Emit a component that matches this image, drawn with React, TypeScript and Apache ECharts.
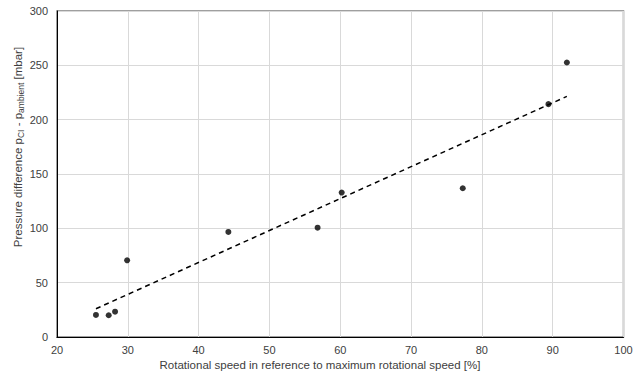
import React, { useEffect, useRef } from "react";
import * as echarts from "echarts";

const speedPct = [25.5, 27.3, 28.2, 29.9, 44.2, 56.8, 60.2, 77.3, 89.4, 92.0];
const pressureMbar = [20.3, 20.0, 23.3, 70.6, 96.7, 100.6, 132.9, 136.9, 214.3, 252.6];
const trendX = [25.5, 92.0];
const trendY = [26.0, 221.4];
const xTitle = "Rotational speed in reference to maximum rotational speed [%]";
const yTitleParts = ["Pressure difference p", "CI", " - p", "ambient", " [mbar]"];

const FONT = "'Liberation Sans', Arial, sans-serif";
const TXT = "#404040";

export default function App() {
  const ref = useRef<HTMLDivElement>(null);
  useEffect(() => {
    if (!ref.current) return;
    const chart = echarts.init(ref.current, null, { renderer: "svg" });
    const yTitleRich =
      `{a|${yTitleParts[0]}}{s|${yTitleParts[1]}}{a|${yTitleParts[2]}}{s|${yTitleParts[3]}}{a|${yTitleParts[4]}}`;
    chart.setOption({
      animation: false,
      backgroundColor: "#ffffff",
      textStyle: { fontFamily: FONT },
      grid: {
        left: 57,
        right: 20.5,
        top: 11,
        bottom: 43,
        show: true,
        borderColor: "#808080",
        borderWidth: 1.5,
      },
      graphic: [
        {
          type: "text",
          x: 320,
          y: 365,
          style: {
            text: xTitle,
            fill: TXT,
            fontSize: 11.5,
            fontFamily: FONT,
            align: "center",
            verticalAlign: "middle",
          },
        },
        {
          type: "text",
          x: 18,
          y: 147,
          rotation: Math.PI / 2,
          style: {
            text: yTitleRich,
            fill: TXT,
            fontSize: 11.5,
            fontFamily: FONT,
            align: "center",
            verticalAlign: "middle",
            rich: {
              a: { fontSize: 11.5, fill: TXT, fontFamily: FONT, lineHeight: 15, verticalAlign: "middle" },
              s: { fontSize: 8.5, fill: TXT, fontFamily: FONT, lineHeight: 9, verticalAlign: "bottom" },
            },
          },
        },
      ],
      xAxis: {
        type: "value",
        min: 20,
        max: 100,
        interval: 10,
        axisLine: { show: true, lineStyle: { color: "#000000", width: 1 } },
        axisTick: { show: false },
        axisLabel: { color: TXT, fontSize: 11, fontFamily: FONT, margin: 7 },
        splitLine: { show: true, lineStyle: { color: "#d9d9d9", width: 1 } },
      },
      yAxis: {
        type: "value",
        min: 0,
        max: 300,
        interval: 50,
        axisLine: { show: true, lineStyle: { color: "#000000", width: 1 } },
        axisTick: { show: false },
        axisLabel: { color: TXT, fontSize: 11, fontFamily: FONT, margin: 9 },
        splitLine: { show: true, lineStyle: { color: "#d9d9d9", width: 1 } },
      },
      series: [
        {
          type: "line",
          data: trendX.map((x, i) => [x, trendY[i]]),
          showSymbol: false,
          symbol: "none",
          lineStyle: { color: "#000000", width: 1.5, type: [5, 4] },
          silent: true,
          z: 2,
        },
        {
          type: "scatter",
          data: speedPct.map((x, i) => [x, pressureMbar[i]]),
          symbol: "circle",
          symbolSize: 6,
          itemStyle: { color: "#000000" },
          z: 3,
        },
      ],
    });
    return () => chart.dispose();
  }, []);
  return <div ref={ref} style={{ width: 644, height: 380, position: "absolute", left: 0, top: 0 }} />;
}
